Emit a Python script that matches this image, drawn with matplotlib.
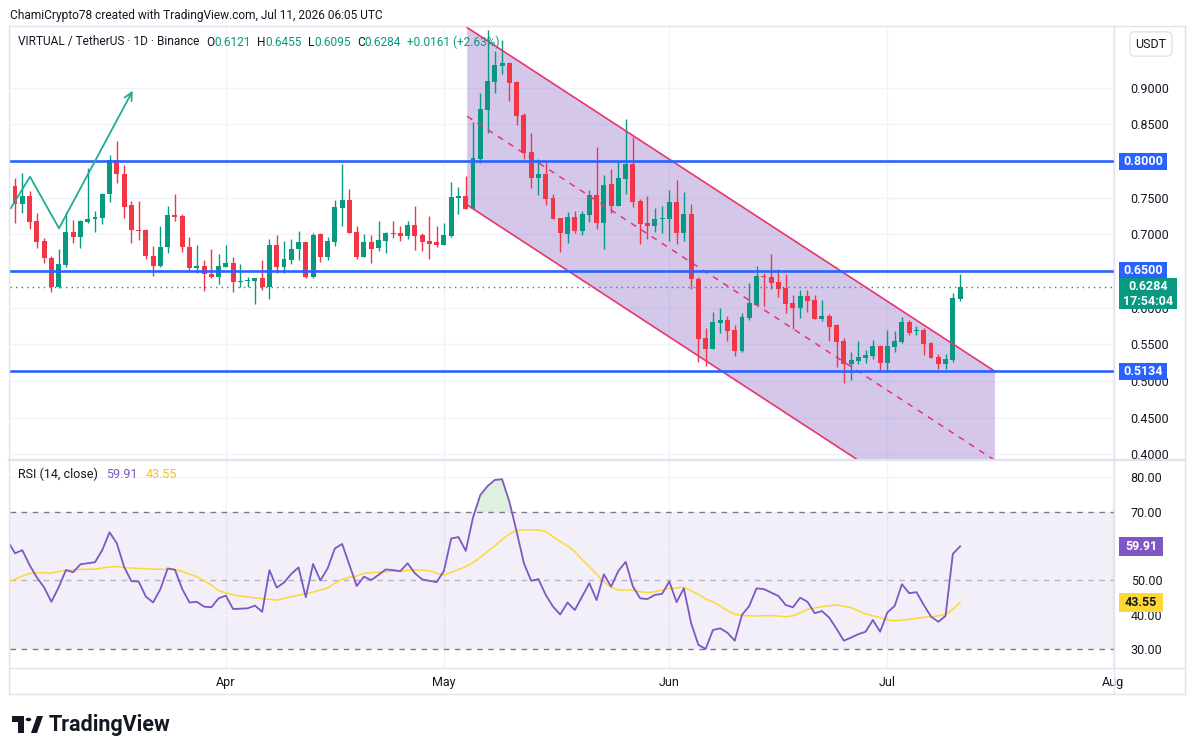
import matplotlib.pyplot as plt
import matplotlib.ticker as mticker
from matplotlib.patches import Polygon, Rectangle, Circle
from matplotlib.lines import Line2D
import numpy as np
import pandas as pd

plt.rcParams['font.family'] = ['Roboto', 'DejaVu Sans']

W, H = 1195, 755

# daily candles, first one is 2026-03-02 (only a sliver visible)
first_day = '2026-03-02'
opens = [0.684, 0.7659, 0.7418, 0.7523, 0.7181, 0.6909, 0.6681, 0.6276, 0.6586, 0.7031, 0.6968,
         0.7172, 0.7209, 0.7227, 0.7550, 0.8014, 0.7818, 0.7400, 0.7063, 0.7055, 0.6708,
         0.6572, 0.6827, 0.7263, 0.7250, 0.6831, 0.6536, 0.6567, 0.6458, 0.6422, 0.6558,
         0.6604, 0.6350, 0.6360, 0.6358, 0.6408, 0.6285, 0.6854, 0.6558, 0.6654, 0.6795,
         0.6895, 0.6417, 0.7004, 0.6695, 0.6899, 0.7363, 0.7468, 0.7036, 0.6695, 0.6895,
         0.6817, 0.6913, 0.7022, 0.7013, 0.6981, 0.7127, 0.6990, 0.6908, 0.6895, 0.6854,
         0.6977, 0.7500, 0.7523, 0.7350, 0.8032, 0.8696, 0.9083, 0.9301, 0.9342, 0.9083,
         0.8628, 0.8123, 0.7773, 0.7823, 0.7500, 0.7218, 0.7009, 0.7236, 0.7045, 0.7263,
         0.7536, 0.7159, 0.7686, 0.7390, 0.7759, 0.7959, 0.7454, 0.7159, 0.7118, 0.7209,
         0.7209, 0.7441, 0.7022, 0.7281, 0.6390, 0.5585, 0.5435, 0.5789, 0.5830, 0.5694,
         0.5407, 0.5858, 0.6040, 0.6431, 0.6417, 0.6349, 0.6272, 0.6062, 0.5994, 0.6158,
         0.6103, 0.5844, 0.5885, 0.5762, 0.5544, 0.5230, 0.5271, 0.5312, 0.5339, 0.5476,
         0.5244, 0.5462, 0.5530, 0.5803, 0.5676, 0.5694, 0.5517, 0.5326, 0.5235, 0.5289,
         0.6121]
highs = [0.770, 0.7773, 0.7841, 0.7591, 0.7295, 0.6954, 0.6704, 0.6795, 0.7309, 0.7195, 0.7195,
         0.7909, 0.7318, 0.7559, 0.8082, 0.8273, 0.7945, 0.7454, 0.7454, 0.7068, 0.6840,
         0.7113, 0.7386, 0.7550, 0.7277, 0.6963, 0.6854, 0.6649, 0.6795, 0.6736, 0.6854,
         0.6695, 0.6595, 0.6422, 0.6408, 0.6649, 0.6936, 0.6990, 0.6913, 0.6931, 0.7045,
         0.6899, 0.7022, 0.7022, 0.6958, 0.7468, 0.7959, 0.7613, 0.7113, 0.7004, 0.6990,
         0.7181, 0.7036, 0.7181, 0.7113, 0.7181, 0.7386, 0.7022, 0.7250, 0.7113, 0.7159,
         0.7709, 0.7650, 0.7796, 0.8537, 0.8933, 0.9788, 0.9501, 0.9651, 0.9345, 0.9096,
         0.8651, 0.8378, 0.8032, 0.7987, 0.7545, 0.7227, 0.7309, 0.7318, 0.7318, 0.7605,
         0.8191, 0.7805, 0.7896, 0.7987, 0.8573, 0.8332, 0.7477, 0.7523, 0.7354, 0.7391,
         0.7600, 0.7736, 0.7577, 0.7418, 0.6413, 0.5721, 0.5940, 0.5994, 0.5885, 0.5762,
         0.5921, 0.6335, 0.6567, 0.6467, 0.6731, 0.6526, 0.6458, 0.6167, 0.6240, 0.6240,
         0.6171, 0.6103, 0.5912, 0.5776, 0.5580, 0.5394, 0.5544, 0.5421, 0.5558, 0.5489,
         0.5694, 0.5680, 0.5876, 0.5830, 0.5749, 0.5721, 0.5530, 0.5371, 0.5371, 0.6199,
         0.6455]
lows = [0.680, 0.7159, 0.7295, 0.7068, 0.6808, 0.6613, 0.6217, 0.6270, 0.6558, 0.6886, 0.6808,
        0.7159, 0.7036, 0.7140, 0.7445, 0.7695, 0.7227, 0.6877, 0.6922, 0.6658, 0.6436,
        0.6549, 0.6749, 0.7186, 0.6763, 0.6490, 0.6467, 0.6231, 0.6399, 0.6326, 0.6549,
        0.6217, 0.6285, 0.6285, 0.6049, 0.6240, 0.6122, 0.6476, 0.6476, 0.6595, 0.6649,
        0.6404, 0.6410, 0.6626, 0.6649, 0.6845, 0.7113, 0.7020, 0.6658, 0.6690, 0.6613,
        0.6777, 0.6749, 0.6954, 0.6913, 0.6931, 0.6786, 0.6777, 0.6667, 0.6831, 0.6850,
        0.6970, 0.7277, 0.7345, 0.7345, 0.7977, 0.8387, 0.8933, 0.9183, 0.8823, 0.8491,
        0.8023, 0.7636, 0.7536, 0.7395, 0.7210, 0.6763, 0.6886, 0.7022, 0.6991, 0.7172,
        0.7068, 0.6804, 0.7295, 0.7386, 0.7545, 0.7377, 0.6872, 0.6931, 0.7031, 0.7013,
        0.6913, 0.6863, 0.6909, 0.6258, 0.5262, 0.5207, 0.5430, 0.5653, 0.5544, 0.5344,
        0.5400, 0.5830, 0.6035, 0.6021, 0.6253, 0.6144, 0.5930, 0.5708, 0.5858, 0.5940,
        0.5840, 0.5817, 0.5544, 0.5189, 0.4975, 0.5016, 0.5235, 0.5248, 0.5298, 0.5135,
        0.5148, 0.5394, 0.5517, 0.5630, 0.5630, 0.5353, 0.5307, 0.5166, 0.5166, 0.5262,
        0.6095]
closes = [0.766, 0.7418, 0.7523, 0.7172, 0.6899, 0.6672, 0.6276, 0.6595, 0.7031, 0.6968, 0.7181,
          0.7209, 0.7236, 0.7550, 0.8014, 0.7818, 0.7377, 0.7063, 0.7050, 0.6708, 0.6572,
          0.6827, 0.7263, 0.7241, 0.6831, 0.6536, 0.6567, 0.6454, 0.6422, 0.6567, 0.6604,
          0.6345, 0.6363, 0.6365, 0.6404, 0.6285, 0.6854, 0.6558, 0.6663, 0.6799, 0.6895,
          0.6417, 0.6990, 0.6695, 0.6908, 0.7372, 0.7468, 0.7022, 0.6695, 0.6895, 0.6804,
          0.6922, 0.7013, 0.7008, 0.6981, 0.7127, 0.6981, 0.6899, 0.6872, 0.6858, 0.6990,
          0.7509, 0.7522, 0.7350, 0.8046, 0.8710, 0.9092, 0.9310, 0.9342, 0.9069, 0.8619,
          0.8114, 0.7773, 0.7823, 0.7486, 0.7213, 0.7022, 0.7236, 0.7045, 0.7277, 0.7536,
          0.7159, 0.7673, 0.7386, 0.7764, 0.7959, 0.7441, 0.7145, 0.7118, 0.7209, 0.7218,
          0.7441, 0.7022, 0.7277, 0.6385, 0.5576, 0.5435, 0.5803, 0.5830, 0.5680, 0.5407,
          0.5871, 0.6062, 0.6431, 0.6417, 0.6335, 0.6253, 0.6053, 0.5994, 0.6158, 0.6094,
          0.5844, 0.5885, 0.5735, 0.5530, 0.5230, 0.5285, 0.5326, 0.5353, 0.5476, 0.5244,
          0.5476, 0.5544, 0.5803, 0.5653, 0.5689, 0.5508, 0.5317, 0.5235, 0.5298, 0.6131,
          0.6284]

rsi = [61.4, 57.9, 58.8, 54.5, 50.9, 48.0, 43.8, 48.0, 53.0, 52.4, 54.7,
       55.0, 55.3, 58.8, 64.0, 60.8, 54.0, 49.8, 49.7, 45.3, 43.6,
       47.5, 53.5, 53.1, 47.5, 43.6, 43.8, 42.4, 42.2, 44.8, 45.6,
       41.7, 41.8, 41.9, 42.7, 40.9, 53.0, 47.9, 49.4, 51.9, 53.8,
       45.1, 54.8, 50.0, 53.5, 59.3, 60.6, 54.5, 48.4, 51.1, 50.1,
       51.6, 53.2, 53.0, 52.7, 55.0, 52.1, 50.3, 49.9, 49.5, 52.8,
       62.2, 62.6, 58.6, 68.3, 74.8, 77.4, 79.2, 79.4, 72.9, 64.2,
       55.0, 49.9, 50.4, 45.8, 42.4, 40.1, 43.6, 41.4, 45.3, 49.2,
       44.3, 51.8, 48.2, 52.8, 55.4, 48.2, 44.8, 44.6, 45.8, 46.1,
       49.7, 43.7, 47.7, 37.6, 31.3, 30.1, 35.6, 36.1, 34.8, 32.5,
       40.0, 42.6, 47.7, 47.5, 46.5, 45.5, 42.9, 42.2, 45.0, 43.8,
       40.5, 41.1, 39.2, 36.0, 32.5, 33.4, 34.4, 35.1, 38.5, 35.1,
       40.7, 42.6, 48.9, 46.3, 46.6, 42.9, 39.5, 38.0, 39.7, 57.7,
       59.91]

# RSI moving average, read at these day offsets
rsi_ma_day = [0, 1, 2, 3, 4, 5, 6, 7, 8, 10, 12, 14, 15, 16, 18, 20, 22, 23, 24, 26,
              28, 29, 31, 33, 35, 37, 39, 41, 43, 44, 45, 46, 47, 48, 49, 51, 53, 54, 55, 57,
              58, 59, 60, 61, 62, 63, 64, 65, 66, 67, 68, 69, 70, 71, 73, 74, 75, 76, 77, 78,
              79, 80, 81, 82, 83, 84, 86, 87, 88, 89, 91, 93, 94, 95, 96, 97, 98, 99, 100, 101,
              103, 105, 107, 108, 109, 110, 112, 114, 116, 118, 120, 121, 122, 123, 124, 126, 128, 129, 130, 131]
rsi_ma = [49.6, 50.3, 51.3, 52.0, 52.2, 52.3, 52.1, 52.6, 53.0, 53.2, 53.3, 53.9, 54.1, 53.7, 53.5, 53.3, 53.2, 53.2, 52.6, 51.1,
          48.7, 47.0, 45.8, 45.2, 44.7, 44.3, 45.3, 46.1, 47.2, 47.8, 49.2, 50.3, 50.9, 51.3, 52.1, 52.4, 52.7, 52.6, 53.0, 53.0,
          52.8, 52.1, 51.6, 52.3, 53.2, 54.0, 55.2, 56.7, 58.4, 60.0, 61.9, 63.5, 64.5, 64.7, 64.7, 64.2, 62.7, 61.3, 60.0, 58.4,
          56.1, 54.0, 51.8, 49.7, 48.0, 47.2, 47.2, 46.7, 46.5, 46.7, 47.7, 48.0, 47.0, 46.0, 44.6, 43.8, 42.6, 41.2, 40.2, 39.8,
          39.7, 39.8, 39.5, 39.7, 40.6, 41.6, 42.4, 42.9, 42.1, 40.3, 39.2, 38.5, 38.3, 38.5, 38.7, 39.3, 39.7, 40.2, 41.6, 43.55]

month_labels = ['Apr', 'May', 'Jun', 'Jul', 'Aug']
month_starts = ['2026-04-01', '2026-05-01', '2026-06-01', '2026-07-01', '2026-08-01']
price_grid = [0.40, 0.45, 0.50, 0.55, 0.60, 0.65, 0.70, 0.75, 0.80, 0.85, 0.90]
# 0.65 and 0.80 sit under their level tags, so they get no separate label
price_ticks = [0.40, 0.45, 0.50, 0.55, 0.60, 0.70, 0.75, 0.85, 0.90]
rsi_ticks = [30, 40, 50, 70, 80]
levels = [0.8000, 0.6500, 0.5134]
last_close = 0.6284
countdown = '17:54:04'
rsi_last = 59.91
rsi_ma_last = 43.55

# drawings: descending channel and zigzag arrow (day offset, price)
chan_x = [63.2, 135.8]
chan_top = [0.982, 0.513]
chan_bot = [0.740, 0.270]
zig_x = [0.41, 3.06, 7.05, 17.19]
zig_y = [0.7355, 0.7786, 0.7082, 0.8959]

UP = '#089981'
DOWN = '#F23645'
BLUE = '#2962FF'
PURPLE = '#7E57C2'
YELLOW = '#FDD835'
TXT = '#131722'
GRID = '#F0F3FA'
BORDER = '#E0E3EB'
PINK = '#E8356D'


def fx(x):
    return x / W


def fy(y):
    return 1 - y / H


fig = plt.figure(figsize=(W / 100, H / 100), dpi=100)
fig.patch.set_facecolor('white')

ax = fig.add_axes([fx(10), fy(459), (1114 - 10) / W, (459 - 26) / H])
ax2 = fig.add_axes([fx(10), fy(668), (1114 - 10) / W, (668 - 461) / H])

o = np.array(opens)
h = np.array(highs)
l = np.array(lows)
c = np.array(closes)
x = np.arange(len(o))
start = pd.Timestamp(first_day)
month_x = [(pd.Timestamp(d) - start).days for d in month_starts]

xlim = (0.31, 152.17)
for a in (ax, ax2):
    a.set_xlim(*xlim)
    for s in a.spines.values():
        s.set_visible(False)
    for m in month_x:
        a.axvline(m, color=GRID, lw=1, zorder=0)
ax.set_ylim(0.3935, 0.9842)
ax2.set_ylim(24.57, 84.7)

for p in price_grid:
    ax.axhline(p, color=GRID, lw=1, zorder=0)

# channel
poly = Polygon([(chan_x[0], chan_top[0]), (chan_x[1], chan_top[1]),
                (chan_x[1], chan_bot[1]), (chan_x[0], chan_bot[0])],
               closed=True, fc=PURPLE, alpha=0.33, ec='none', zorder=1)
ax.add_patch(poly)
ax.plot(chan_x, chan_top, color=PINK, lw=1.2, zorder=5)
ax.plot(chan_x, chan_bot, color=PINK, lw=1.2, zorder=5)
mid = [(chan_top[0] + chan_bot[0]) / 2, (chan_top[1] + chan_bot[1]) / 2]
ax.plot(chan_x, mid, color=PINK, lw=1.1, ls=(0, (4, 4)), zorder=5)

# candles
colors = np.where(c >= o, UP, DOWN)
ax.vlines(x, l, h, colors=colors, lw=1, zorder=3)
body = np.maximum(np.abs(c - o), 0.0014)
ax.bar(x, body, bottom=np.minimum(o, c), width=0.68, color=colors, lw=0, zorder=3)

# horizontal levels and last price
for v in levels:
    ax.axhline(v, color=BLUE, lw=1.9, zorder=6)
ax.axhline(last_close, color=UP, lw=1, ls=(0, (1, 3)), zorder=6)

# zigzag with arrow
ax.plot(zig_x[:-1], zig_y[:-1], color='#22AB94', lw=1.3, zorder=6, solid_capstyle='round')
ax.annotate('', xy=(zig_x[-1], zig_y[-1]), xytext=(zig_x[-2], zig_y[-2]),
            arrowprops=dict(arrowstyle='->', color='#22AB94', lw=1.3, shrinkA=0, shrinkB=0,
                            mutation_scale=14), zorder=6)

# price axis
ax.yaxis.tick_right()
ax.set_yticks(price_ticks)
ax.yaxis.set_major_formatter(mticker.FormatStrFormatter('%.4f'))
ax.tick_params(axis='y', length=0, pad=12, labelsize=9, labelcolor=TXT)
ax.tick_params(axis='x', bottom=False, labelbottom=False)


def tag(a, yval, text, fc, tc, ppu, x0=1119, x1=1167, hpx=17, size=9, bold=True):
    ax_w = 1104.0
    tr = a.get_yaxis_transform()
    hh = hpx / ppu
    a.add_patch(Rectangle(((x0 - 10) / ax_w, yval - hh / 2), (x1 - x0) / ax_w, hh,
                          transform=tr, fc=fc, ec='none', clip_on=False, zorder=8))
    a.text((x0 + x1) / 2 / ax_w - 10 / ax_w, yval, text, transform=tr, ha='center', va='center',
           color=tc, fontsize=size, fontweight='bold' if bold else 'normal',
           clip_on=False, zorder=9, linespacing=1.15)


PPU = 733.0
for v in levels:
    tag(ax, v, f'{v:.4f}', BLUE, 'white', PPU)
tag(ax, 0.6186, f'{last_close:.4f}\n{countdown}', UP, 'white', PPU, x1=1177, hpx=31)

# RSI pane
ax2.axhspan(30, 70, color=PURPLE, alpha=0.09, lw=0, zorder=0)
for g in (40, 60, 80):
    ax2.axhline(g, color=GRID, lw=1, zorder=0.5)
ax2.axhline(70, color='#787B86', lw=1, ls=(0, (4, 4)), zorder=1)
ax2.axhline(30, color='#787B86', lw=1, ls=(0, (4, 4)), zorder=1)
ax2.axhline(50, color='#787B86', lw=1, ls=(0, (4, 4)), alpha=0.5, zorder=1)
r = np.array(rsi)
ax2.fill_between(x, 70, r, where=r >= 70, interpolate=True, color='#4CAF50', alpha=0.18, lw=0, zorder=1)
ax2.plot(x, r, color=PURPLE, lw=1.3, zorder=3)
ax2.plot(rsi_ma_day, rsi_ma, color=YELLOW, lw=1.1, zorder=2)

ax2.yaxis.tick_right()
ax2.set_yticks(rsi_ticks)
ax2.yaxis.set_major_formatter(mticker.FormatStrFormatter('%.2f'))
ax2.tick_params(axis='y', length=0, pad=12, labelsize=9, labelcolor=TXT)
ax2.set_xticks(month_x)
ax2.set_xticklabels(month_labels)
ax2.tick_params(axis='x', length=0, pad=6, labelsize=9, labelcolor=TXT)

RPPU = 3.4425
tag(ax2, rsi_last, f'{rsi_last:.2f}', PURPLE, 'white', RPPU, x1=1163, hpx=19)
tag(ax2, rsi_ma_last, f'{rsi_ma_last:.2f}', YELLOW, TXT, RPPU, x1=1163, hpx=19)


# frame lines
def fline(x0, y0, x1, y1, color=BORDER, lw=1):
    fig.add_artist(Line2D([fx(x0), fx(x1)], [fy(y0), fy(y1)], color=color, lw=lw))


fline(9, 26, 1185, 26)
fline(9, 26, 9, 694)
fline(1185, 26, 1185, 694)
fline(9, 694, 1185, 694)
fline(1114, 26, 1114, 694)
fline(9, 460, 1185, 460, lw=1.6)
fline(9, 668, 1185, 668)

# USDT button
fig.text(fx(1151), fy(44), 'USDT', ha='center', va='center', fontsize=9, color=TXT,
         bbox=dict(boxstyle='round,pad=0.45,rounding_size=0.4', fc='white', ec=BORDER, lw=1))

# header texts
fig.text(fx(10), fy(15), 'ChamiCrypto78 created with TradingView.com, Jul 11, 2026 06:05 UTC',
         fontsize=8.6, color=TXT, va='center', ha='left')

renderer = fig.canvas.get_renderer()


def chain(x0, y0, pieces, size):
    xx = x0
    for s, col, gap in pieces:
        xx += gap
        t = fig.text(fx(xx), fy(y0), s, color=col, fontsize=size, va='center', ha='left')
        xx += t.get_window_extent(renderer).width


chain(18, 42, [('VIRTUAL / TetherUS · 1D · Binance', TXT, 0),
               ('O', TXT, 7), (f'{opens[-1]:.4f}', UP, 0),
               ('H', TXT, 6), (f'{highs[-1]:.4f}', UP, 0),
               ('L', TXT, 6), (f'{lows[-1]:.4f}', UP, 0),
               ('C', TXT, 6), (f'{closes[-1]:.4f}', UP, 0),
               ('+0.0161 (+2.63%)', UP, 6)], 8.6)

chain(18, 474, [('RSI (14, close)', TXT, 0),
                (f'{rsi_last:.2f}', PURPLE, 8),
                (f'{rsi_ma_last:.2f}', '#F5C518', 8)], 9)

# TradingView logo
fig.patches.append(Rectangle((fx(12), fy(722)), 12 / W, 6 / H, transform=fig.transFigure,
                             fc=TXT, ec='none'))
fig.patches.append(Rectangle((fx(18), fy(733)), 6 / W, 17 / H, transform=fig.transFigure,
                             fc=TXT, ec='none'))
fig.patches.append(Circle((fx(28.5), fy(719.5)), 2.8 / W, transform=fig.transFigure,
                          fc=TXT, ec='none'))
fig.patches.append(Polygon([(fx(31), fy(733)), (fx(37), fy(716)), (fx(43), fy(716)), (fx(37), fy(733))],
                           closed=True, transform=fig.transFigure, fc=TXT, ec='none'))
fig.text(fx(49), fy(725), 'TradingView', fontsize=15.5, fontweight='bold', color=TXT,
         va='center', ha='left')

fig.savefig('out.png', dpi=100, facecolor='white')
